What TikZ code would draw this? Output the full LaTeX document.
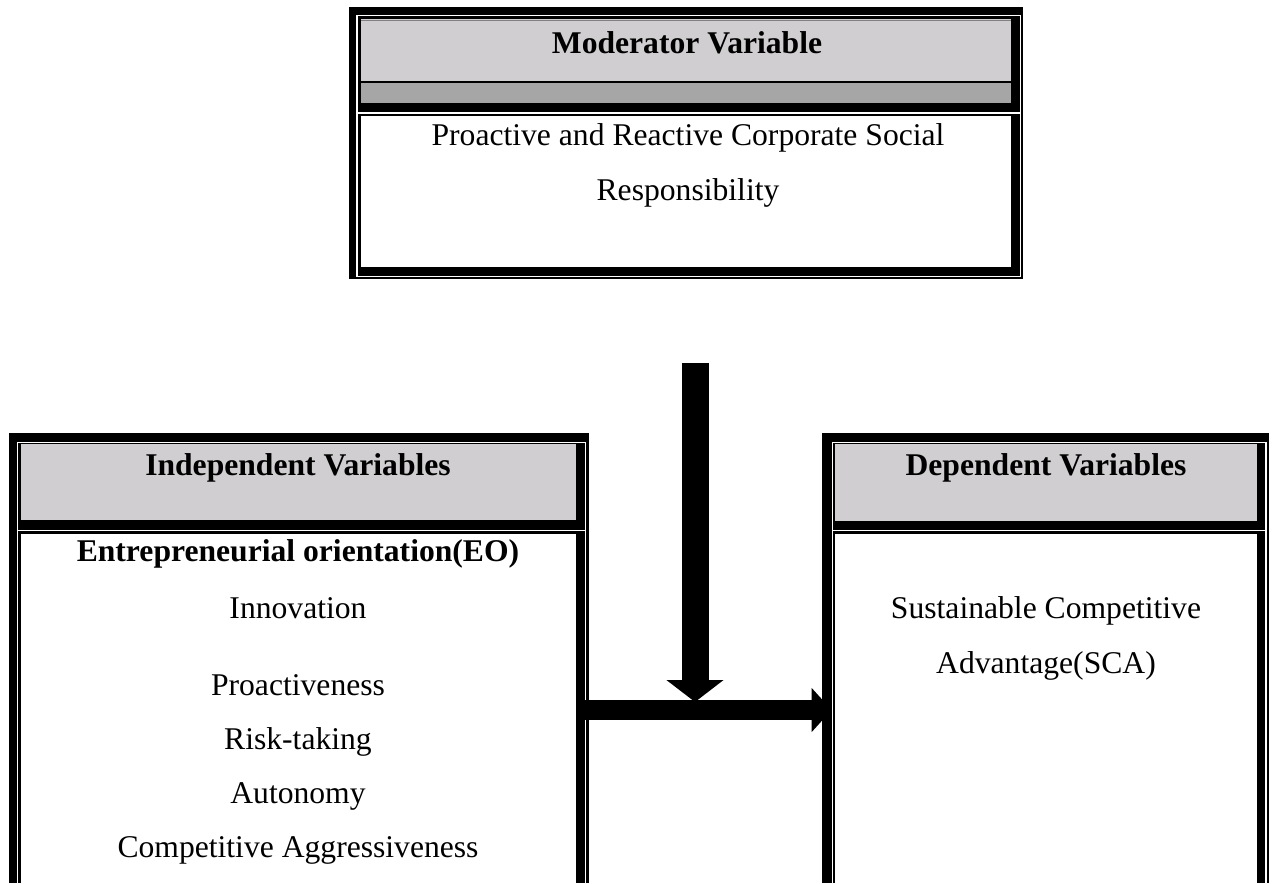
\documentclass[tikz,border=0pt]{standalone}
\usepackage{fontspec}
\setmainfont{Liberation Serif}
\usetikzlibrary{arrows.meta, fit}
\definecolor{headgray}{RGB}{208,206,208}
\definecolor{bandgray}{RGB}{166,166,166}

\begin{document}
\begin{tikzpicture}[x = 0.02cm, y = -0.02cm,
    frame/.style = {fill = black, inner sep = 0pt},
    gapline/.style = {draw = white, line width = 0.025cm},
    vartext/.style = {anchor = base, inner sep = 0pt, font = \fontsize{18}{22}\selectfont},
    varhead/.style = {vartext, font = \fontsize{18}{22}\selectfont\bfseries},
    bigarrow/.style = {line width = 0.54cm, -{Triangle[width = 1.12cm, length = 0.44cm]}},
    midarrow/.style = {line width = 0.4cm, -{Triangle[width = 0.86cm, length = 0.4cm]}}]
      \useasboundingbox (0,0) rectangle (1275,883);

      % moderator box
      \node[frame, fit = {(349,7) (1023,279)}] (mod) {};
      \fill[headgray] (361,19) rectangle (1011,81);
      \draw[gray, line width = 0.02cm] (361,20.5) -- (1011,20.5);
      \fill[bandgray] (361,83) rectangle (1011,103);
      \fill[white] (361,116) rectangle (1011,267);
      \draw[gapline] (357,15.5) rectangle (1020.5,276.5)
                     (357,113) -- (1020.5,113);
      \node[varhead] (modhead) at (687,53) {Moderator Variable};
      \node[vartext] (csr1) at (688,145) {Proactive and Reactive Corporate Social};
      \node[vartext] (csr2) at (688,200) {Responsibility};

      % independent box
      \node[frame, fit = {(9,433) (588.5,883)}] (indep) {};
      \fill[headgray] (21,444) rectangle (576,520);
      \fill[white] (21,534) rectangle (576,883);
      \draw[gapline] (17.5,883) -- (17.5,442.5) -- (585.5,442.5) -- (585.5,883)
                     (17.5,530.5) -- (585.5,530.5);
      \node[varhead] (indephead) at (298,475) {Independent Variables};
      \node[varhead] (eo) at (298,561) {Entrepreneurial orientation(EO)};
      \node[vartext] (innov) at (298,618) {Innovation};
      \node[vartext] (proact) at (298,695) {Proactiveness};
      \node[vartext] (risk) at (298,749) {Risk-taking};
      \node[vartext] (auton) at (298,803) {Autonomy};
      \node[vartext] (aggr) at (298,857) {Competitive Aggressiveness};

      % dependent box
      \node[frame, fit = {(822,433) (1268.5,883)}] (dep) {};
      \fill[headgray] (835,444) rectangle (1257,521);
      \fill[white] (835,534) rectangle (1257,883);
      \draw[gapline] (832.5,883) -- (832.5,442.5) -- (1266,442.5) -- (1266,883)
                     (832.5,530.5) -- (1266,530.5);
      \node[varhead] (dephead) at (1046,475) {Dependent Variables};
      \node[vartext] (sca1) at (1046,618) {Sustainable Competitive};
      \node[vartext] (sca2) at (1046,673) {Advantage(SCA)};

      % arrows
      \coordinate (modtail) at (695,363);
      \coordinate (hjoin) at (695,710);
      \draw[midarrow, shorten <= -0.1cm, shorten >= -0.2cm] (indep.east |- hjoin) -- (dep.west |- hjoin);
      \draw[bigarrow, shorten >= 0.16cm] (modtail) -- (modtail |- hjoin);
    \end{tikzpicture}
\end{document}
